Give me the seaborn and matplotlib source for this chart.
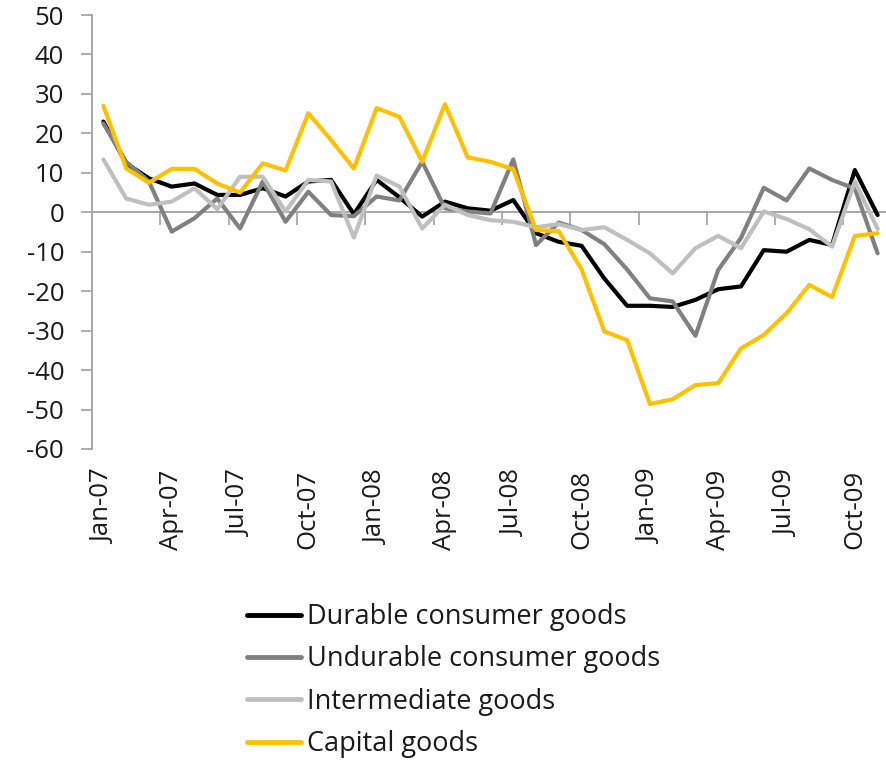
import matplotlib
matplotlib.use("Agg")
import matplotlib.pyplot as plt
import seaborn as sns
import pandas as pd
import numpy as np

months = ["Jan-07","Feb-07","Mar-07","Apr-07","May-07","Jun-07","Jul-07","Aug-07","Sep-07","Oct-07","Nov-07","Dec-07",
          "Jan-08","Feb-08","Mar-08","Apr-08","May-08","Jun-08","Jul-08","Aug-08","Sep-08","Oct-08","Nov-08","Dec-08",
          "Jan-09","Feb-09","Mar-09","Apr-09","May-09","Jun-09","Jul-09","Aug-09","Sep-09","Oct-09","Nov-09"]

durable = [23, 12.4, 8.6, 6.5, 7.3, 4.4, 4.4, 6.1, 4.0, 7.8, 8.2, -0.5,
           8.2, 3.8, -1.1, 2.7, 1.0, 0.4, 3.1, -5.3, -7.5, -8.5, -16.8, -23.7,
           -23.7, -24.0, -22.2, -19.5, -18.8, -9.6, -10.0, -7.0, -8.3, 10.7, -0.7]
undurable = [22.5, 12.8, 7.8, -4.9, -1.5, 3.5, -4.1, 7.8, -2.4, 5.2, -0.7, -1.0,
             4.0, 3.0, 12.8, 1.0, 0.2, -0.3, 13.4, -8.3, -2.6, -4.5, -8.1, -14.5,
             -21.8, -22.6, -31.3, -14.6, -6.5, 6.2, 3.0, 11.1, 8.2, 6.0, -10.4]
intermediate = [13.4, 3.5, 1.9, 2.7, 6.1, 0.8, 9.0, 9.0, 0.2, 8.2, 7.8, -6.4,
                9.3, 6.5, -4.1, 1.9, -0.7, -2.0, -2.4, -3.8, -3.0, -4.5, -3.8, -7.0,
                -10.4, -15.5, -9.1, -6.0, -9.1, 0.2, -1.7, -4.3, -8.7, 7.8, -4.2]
capital = [27, 11.1, 7.5, 11.0, 11.0, 7.3, 5.0, 12.4, 10.6, 25.1, 18.3, 11.1,
           26.4, 24.2, 12.8, 27.4, 13.9, 12.8, 10.9, -4.5, -4.8, -14.5, -30.2, -32.4,
           -48.6, -47.4, -43.8, -43.3, -34.5, -31.1, -25.6, -18.4, -21.5, -6.0, -5.3]

series_names = ["Durable consumer goods", "Undurable consumer goods", "Intermediate goods", "Capital goods"]
series_values = [durable, undurable, intermediate, capital]
colors = ["#000000", "#808080", "#BFBFBF", "#FFC000"]

y_ticks = [50, 40, 30, 20, 10, 0, -10, -20, -30, -40, -50, -60]

rows = []
for name, vals in zip(series_names, series_values):
    for i, (m, v) in enumerate(zip(months, vals)):
        rows.append({"idx": i, "month": m, "value": v, "series": name})
df = pd.DataFrame(rows)

sns.set_theme(style="white")
plt.rcParams["font.family"] = ["Open Sans", "DejaVu Sans"]

fig = plt.figure(figsize=(8.87, 7.62), dpi=100)
ax = fig.add_axes([92/887, 1 - 449/762, 797/887, 434/762])

GRAY = "#A0A0A0"
TXT = "#1a1a1a"

# zero line (category axis crossing at 0)
ax.axhline(0, color=GRAY, linewidth=1.3, zorder=1)

sns.lineplot(data=df, x="idx", y="value", hue="series", hue_order=series_names,
             palette=dict(zip(series_names, colors)), linewidth=3.0, ax=ax,
             sort=False, estimator=None, zorder=3)

n = len(months)
ax.set_xlim(-0.5, n - 0.5)
ax.set_ylim(-60, 50)
ax.set_yticks(y_ticks)
ax.set_yticklabels([str(t) for t in y_ticks])
ax.tick_params(axis="y", direction="out", length=8, width=1.2, color=GRAY,
               labelsize=18.5, labelcolor=TXT, pad=12, left=True)
ax.set_xlabel("")
ax.set_ylabel("")

for s in ["top", "right", "bottom"]:
    ax.spines[s].set_visible(False)
ax.spines["left"].set_color(GRAY)
ax.spines["left"].set_linewidth(1.3)

# category labels every 3 months at bottom
label_idx = list(range(0, n, 3))
ax.set_xticks(label_idx)
ax.set_xticklabels([months[i] for i in label_idx], rotation=90)
ax.tick_params(axis="x", length=0, labelsize=18.5, labelcolor=TXT, pad=15, bottom=True)

# tick marks between groups on the zero line
ymin, ymax = ax.get_ylim()
sec = ax.secondary_xaxis((0 - ymin) / (ymax - ymin))
sec.xaxis.set_ticks_position("bottom")
sec.set_xticks([i - 0.5 for i in range(3, n, 3)])
sec.set_xticklabels([])
sec.tick_params(axis="x", direction="out", length=9, width=1.2, color=GRAY,
                bottom=True, top=False)
for s in sec.spines:
    sec.spines[s].set_visible(False)

handles, labels = ax.get_legend_handles_labels()
if ax.get_legend() is not None:
    ax.get_legend().remove()
fig.legend(handles, labels, loc="upper left", bbox_to_anchor=(247/887, 1 - 603/762),
           frameon=False, fontsize=19.5, handlelength=2.0, handletextpad=0.22,
           labelspacing=0.53, borderpad=0, borderaxespad=0, labelcolor=TXT)
for line in fig.legends[0].get_lines():
    line.set_linewidth(3.5)

fig.savefig("out.png", dpi=100)
